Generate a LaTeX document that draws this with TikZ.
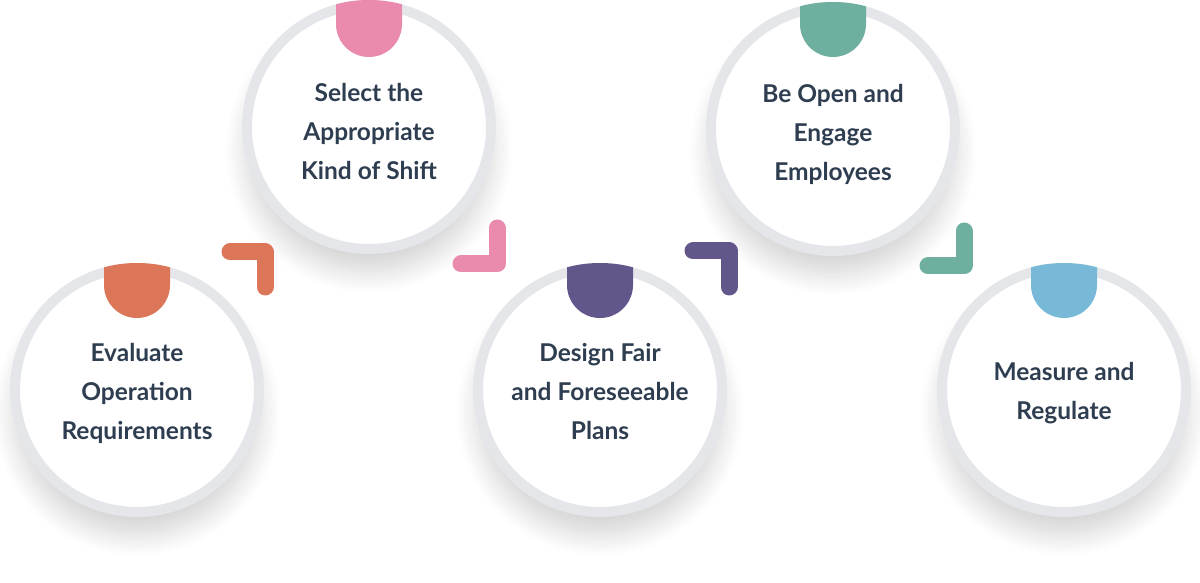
\documentclass[tikz,border=0pt]{standalone}
\usepackage{fontspec}
\setmainfont{Lato}
\usetikzlibrary{calc,shadows.blur}

\definecolor{rim}{HTML}{E4E6EA}
\definecolor{ink}{HTML}{2E3E50}
\definecolor{orangetab}{HTML}{DC7658}
\definecolor{pinktab}{HTML}{E98AAE}
\definecolor{purpletab}{HTML}{62568A}
\definecolor{tealtab}{HTML}{6FAF9F}
\definecolor{bluetab}{HTML}{78B9D8}

\tikzset{
  ring/.style={circle, draw=rim, line width=10pt, fill=white,
    minimum size=244pt, inner sep=0pt,
    blur shadow={shadow xshift=0pt, shadow yshift=-22pt,
      shadow blur radius=22pt, shadow opacity=18, shadow blur steps=20}},
  caption/.style={align=center, text=ink, inner sep=0pt,
    font=\fontsize{24.5}{39}\selectfont\bfseries},
  elbow/.style={line width=17pt, line cap=round, line join=round}
}

\begin{document}
\begin{tikzpicture}[x=1pt, y=1pt]
  \useasboundingbox (0,0) rectangle (1200,582);

  \node (c1) at (137, 192) [ring] {};
  \node (c2) at (369, 455) [ring] {};
  \node (c3) at (600, 192) [ring] {};
  \node (c4) at (833, 453) [ring] {};
  \node (c5) at (1064, 192) [ring] {};

  \node (t1) at ($(c1)+(0,-3)$) [caption] {Evaluate\\Operation\\Requirements};
  \node (t2) at ($(c2)+(0,-4)$) [caption] {Select the\\Appropriate\\Kind of Shift};
  \node (t3) at ($(c3)+(0,-2)$) [caption] {Design Fair\\and Foreseeable\\Plans};
  \node (t4) at ($(c4)+(0,-5)$) [caption] {Be Open and\\Engage\\Employees};
  \node (t5) at ($(c5)+(0,-3)$) [caption] {Measure and\\Regulate};

  % tabs on top of each circle
  \begin{scope}
    \clip (c1) circle (127);
    \fill[orangetab] ($(c1)+(-33,130)$) -- ($(c1)+(-33,105)$)
      arc[start angle=180, end angle=360, radius=33] -- ($(c1)+(33,130)$) -- cycle;
  \end{scope}
  \begin{scope}
    \clip (c2) circle (127);
    \fill[pinktab] ($(c2)+(-33,130)$) -- ($(c2)+(-33,103)$)
      arc[start angle=180, end angle=360, radius=33] -- ($(c2)+(33,130)$) -- cycle;
  \end{scope}
  \begin{scope}
    \clip (c3) circle (127);
    \fill[purpletab] ($(c3)+(-33,130)$) -- ($(c3)+(-33,105)$)
      arc[start angle=180, end angle=360, radius=33] -- ($(c3)+(33,130)$) -- cycle;
  \end{scope}
  \begin{scope}
    \clip (c4) circle (127);
    \fill[tealtab] ($(c4)+(-33,130)$) -- ($(c4)+(-33,105)$)
      arc[start angle=180, end angle=360, radius=33] -- ($(c4)+(33,130)$) -- cycle;
  \end{scope}
  \begin{scope}
    \clip (c5) circle (127);
    \fill[bluetab] ($(c5)+(-33,130)$) -- ($(c5)+(-33,105)$)
      arc[start angle=180, end angle=360, radius=33] -- ($(c5)+(33,130)$) -- cycle;
  \end{scope}

  % elbows between the circles
  \draw[elbow, orangetab] (230, 330) -- (265, 330) -- (265, 295);
  \draw[elbow, pinktab] (461, 318) -- (497, 318) -- (497, 354);
  \draw[elbow, purpletab] (693, 331) -- (729, 331) -- (729, 295);
  \draw[elbow, tealtab] (928, 316) -- (964, 316) -- (964, 351);
\end{tikzpicture}
\end{document}
